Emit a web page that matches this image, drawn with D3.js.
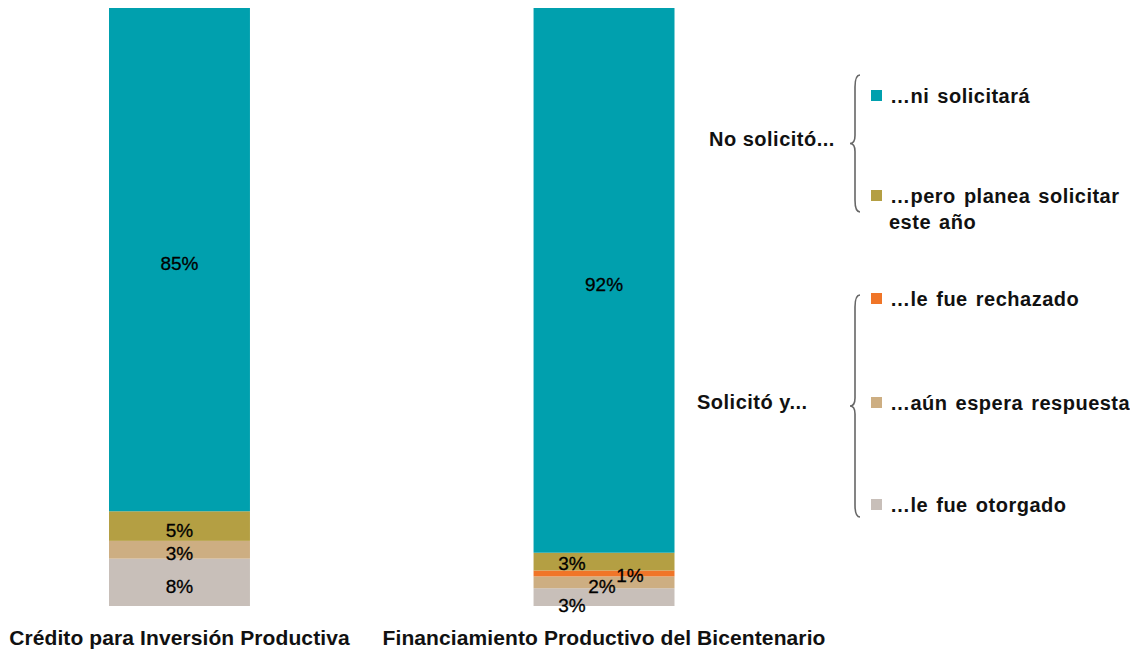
<!DOCTYPE html>
<html><head><meta charset="utf-8">
<script src="https://cdn.jsdelivr.net/npm/d3@7"></script>
<style>body{margin:0;background:#fff}svg{display:block}text{font-family:"Liberation Sans",Arial,sans-serif}</style>
</head><body><svg id="c" width="1130" height="650"></svg>
<script>
const categories = ["Crédito para Inversión Productiva", "Financiamiento Productivo del Bicentenario"];
const keys = ["otorgado", "espera", "rechazado", "planea", "ni"];
const otorgado = [8, 3];
const espera = [3, 2];
const rechazado = [0, 1];
const planea = [5, 3];
const ni = [85, 92];
const legendLabels = {
  ni: ["…ni solicitará"],
  planea: ["…pero planea solicitar", "este año"],
  rechazado: ["…le fue rechazado"],
  espera: ["…aún espera respuesta"],
  otorgado: ["…le fue otorgado"]
};
const groupLabels = ["No solicitó...", "Solicitó y..."];
const colors = {ni: "#00A0AE", planea: "#B49F43", rechazado: "#F07528", espera: "#CDAE82", otorgado: "#C8BFB9"};

const series = {otorgado, espera, rechazado, planea, ni};
const rows = categories.map((c, i) => {
  const r = {cat: c};
  keys.forEach(k => r[k] = series[k][i]);
  return r;
});
const stacked = d3.stack().keys(keys)(rows);
const maxSum = d3.max(rows, r => d3.sum(keys, k => r[k]));

const svg = d3.select("#c");
const x = d3.scaleBand().domain(categories).range([109, 674.5]).paddingInner(0.668).paddingOuter(0);
const y = d3.scaleLinear().domain([0, maxSum]).range([606, 8]);

svg.append("g").selectAll("g").data(stacked).join("g")
  .attr("fill", d => colors[d.key])
  .selectAll("rect").data(d => d).join("rect")
  .attr("x", d => x(d.data.cat))
  .attr("width", x.bandwidth())
  .attr("y", d => y(d[1]))
  .attr("height", d => y(d[0]) - y(d[1]));

// label offsets (display adjustments) per category index and key
const labelOffset = {
  "1": {planea: [-32, -2], rechazado: [26, -2], espera: [-2, 0], otorgado: [-32, 4]}
};
const lab = svg.append("g").attr("font-size", 19).attr("fill", "#000").attr("text-anchor", "middle")
  .attr("stroke", "#000").attr("stroke-width", 0.3);
stacked.forEach(s => {
  s.forEach((d, i) => {
    const v = d.data[s.key];
    if (!v) return;
    const off = (labelOffset[i] && labelOffset[i][s.key]) || [0, 0];
    lab.append("text")
      .attr("x", x(d.data.cat) + x.bandwidth() / 2 + off[0])
      .attr("y", (y(d[0]) + y(d[1])) / 2 + off[1] + 4)
      .attr("dy", "0.35em")
      .text(v + "%");
  });
});

// category axis labels
svg.append("g").selectAll("text").data(categories).join("text")
  .attr("x", d => x(d) + x.bandwidth() / 2)
  .attr("y", 645)
  .attr("text-anchor", "middle")
  .attr("font-size", 21).attr("font-weight", "bold").attr("fill", "#111")
  .attr("letter-spacing", 0.1)
  .text(d => d);

// legend
const legendY = {ni: 96, planea: 196, rechazado: 299, espera: 403, otorgado: 505};
const leg = svg.append("g");
["ni", "planea", "rechazado", "espera", "otorgado"].forEach(k => {
  const g = leg.append("g").attr("transform", `translate(871,${legendY[k]})`);
  g.append("rect").attr("x", 0).attr("y", -6).attr("width", 11).attr("height", 11).attr("fill", colors[k]);
  legendLabels[k].forEach((t, j) => {
    g.append("text").attr("x", j === 0 ? 19 : 18).attr("y", 7 + j * 26)
      .attr("font-size", 20).attr("font-weight", "bold").attr("fill", "#111")
      .attr("letter-spacing", 0.5).attr("word-spacing", 2).text(t);
  });
});

// group labels
svg.append("text").attr("x", 709).attr("y", 146).attr("font-size", 20).attr("font-weight", "bold").attr("fill", "#111").attr("letter-spacing", 0.5).text(groupLabels[0]);
svg.append("text").attr("x", 697).attr("y", 409).attr("font-size", 20).attr("font-weight", "bold").attr("fill", "#111").attr("letter-spacing", 0.5).text(groupLabels[1]);

// braces
function brace(xr, y0, y1, w) {
  const m = (y0 + y1) / 2, xl = xr - w, xm = xr - w / 2;
  return `M${xr},${y0} Q${xm},${y0} ${xm},${y0 + 12} L${xm},${m - 8} Q${xm},${m} ${xl},${m} Q${xm},${m} ${xm},${m + 8} L${xm},${y1 - 12} Q${xm},${y1} ${xr},${y1}`;
}
svg.append("path").attr("d", brace(860, 75, 212, 10)).attr("fill", "none").attr("stroke", "#666").attr("stroke-width", 1.6);
svg.append("path").attr("d", brace(860, 295, 517, 10)).attr("fill", "none").attr("stroke", "#666").attr("stroke-width", 1.6);
</script></body></html>
